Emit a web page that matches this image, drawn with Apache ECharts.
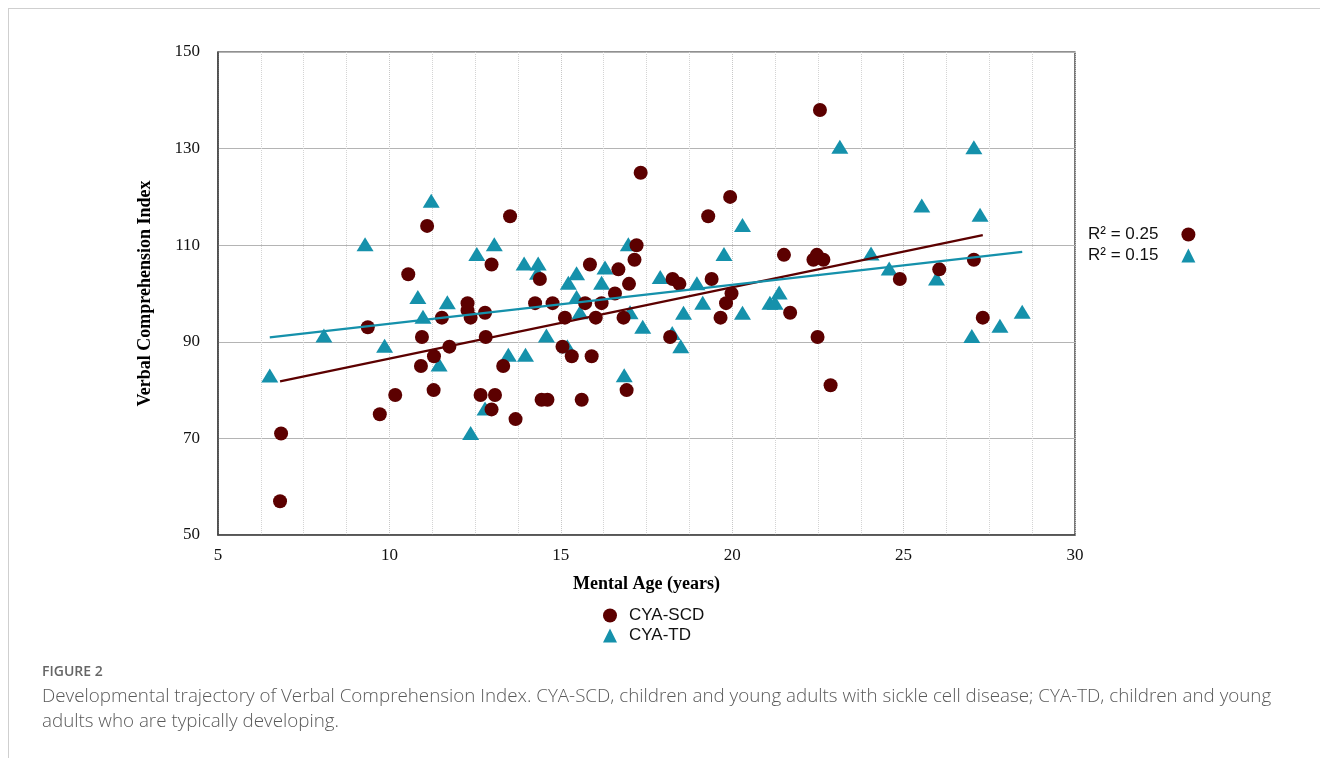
<!DOCTYPE html>
<html>
<head>
<meta charset="utf-8">
<script src="https://cdn.jsdelivr.net/npm/echarts@6/dist/echarts.min.js"></script>
<style>
  html, body { margin: 0; padding: 0; background: #fff; }
  #wrap { position: relative; width: 1320px; height: 758px; overflow: hidden; }
  #frame { position: absolute; left: 8px; top: 8px; right: -2px; bottom: -2px;
           border-top: 1px solid #cfcfcf; border-left: 1px solid #cfcfcf; }
  #chart { position: absolute; left: 0; top: 0; width: 1320px; height: 758px; }
  .cap { position: absolute; left: 42px; font-family: "Open Sans", sans-serif; color: #5a5a5a; }
  #figno { top: 661px; font-size: 14px; font-weight: 600; color: #666; }
  #captxt { top: 683px; font-size: 18.8px; line-height: 24.5px; width: 1260px; font-weight: 300; }
</style>
</head>
<body>
<div id="wrap">
  <div id="frame"></div>
  <div id="chart"></div>
  <div class="cap" id="figno">FIGURE 2</div>
  <div class="cap" id="captxt">Developmental trajectory of Verbal Comprehension Index. CYA-SCD, children and young adults with sickle cell disease; CYA-TD, children and young adults who are typically developing.</div>
</div>
<script>
// CYA-SCD: mental age (years) / VCI
const scdAge = [6.81, 6.84, 9.37, 9.72, 10.17, 10.55, 10.92, 10.95, 11.10, 11.29, 11.30, 11.53, 11.75,
  12.28, 12.28, 12.37, 12.79, 12.98, 12.81, 12.66, 13.08, 12.98, 13.52, 13.32, 13.68,
  14.25, 14.39, 14.76, 14.44, 14.61, 15.05, 15.12, 15.32, 15.61, 15.71, 15.85, 15.90,
  16.02, 16.19, 16.58, 16.68, 16.83, 16.99, 17.15, 17.21, 17.33, 16.92,
  18.26, 18.46, 18.19, 19.30, 19.40, 19.94, 19.66, 19.82, 19.98,
  21.51, 21.69, 22.37, 22.47, 22.66, 22.49, 22.87, 22.56, 24.89, 26.04, 27.05, 27.31];
const scdVci = [57, 71, 93, 75, 79, 104, 85, 91, 114, 80, 87, 95, 89,
  98, 96.5, 95, 96, 106, 91, 79, 79, 76, 116, 85, 74,
  98, 103, 98, 78, 78, 89, 95, 87, 78, 98, 106, 87,
  95, 98, 100, 105, 95, 102, 107, 110, 125, 80,
  103, 102, 91, 116, 103, 120, 95, 98, 100,
  108, 96, 107, 108, 107, 91, 81, 138, 103, 105, 107, 95];

// CYA-TD: mental age (years) / VCI
const tdAge = [6.51, 8.09, 9.29, 9.86, 10.83, 10.98, 11.22, 11.45, 11.69, 12.55, 13.06, 12.37, 12.79,
  13.47, 13.97, 13.93, 14.34, 14.32, 14.58, 15.22, 15.46, 15.46, 15.56, 15.19, 16.19, 16.29,
  17.02, 16.97, 17.39, 16.85, 17.90, 18.25, 18.50, 18.58, 18.97, 19.14, 19.76, 20.30, 20.30,
  21.10, 21.25, 21.37, 23.14, 24.05, 24.58, 25.96, 25.53, 27.05, 27.23, 26.99, 27.81, 28.46];
const tdVci = [83, 91.3, 110.2, 89.2, 99.3, 95.2, 119.2, 85.3, 98.2, 108.2, 110.2, 71.1, 76.2,
  87.3, 87.3, 106.2, 106.2, 104.3, 91.3, 102.2, 104.2, 99.3, 96.1, 89.1, 102.2, 105.4,
  96.1, 110.2, 93.1, 83.1, 103.4, 91.8, 89.1, 96.0, 102.1, 98.1, 108.2, 114.2, 96.0,
  98.1, 98.1, 100.2, 130.4, 108.3, 105.2, 103.1, 118.2, 130.3, 116.3, 91.2, 93.3, 96.2];

// linear trend lines (end points)
const scdTrendX = [6.81, 27.31];
const scdTrendY = [81.8, 112.1];
const tdTrendX = [6.51, 28.46];
const tdTrendY = [90.9, 108.6];

const seriesNames = ['CYA-SCD', 'CYA-TD'];
const r2Labels = ['R\u00b2 = 0.25', 'R\u00b2 = 0.15'];

const red = '#5c0000';
const teal = '#1591ab';

const pairs = (xs, ys) => xs.map((x, i) => [x, ys[i]]);

const chart = echarts.init(document.getElementById('chart'));
const serif = '"Liberation Serif", "Times New Roman", serif';
const sans = '"Liberation Sans", Arial, sans-serif';

chart.setOption({
  animation: false,
  grid: { left: 218, right: 245, top: 52, bottom: 223, show: true, borderColor: '#222', borderWidth: 1.2 },
  xAxis: {
    type: 'value', min: 5, max: 30, interval: 5,
    name: 'Mental Age (years)', nameLocation: 'middle', nameGap: 40,
    nameTextStyle: { fontFamily: serif, fontWeight: 'bold', fontSize: 18, color: '#000' },
    axisLine: { lineStyle: { color: '#444', width: 1.5 } },
    axisTick: { show: false },
    axisLabel: { fontFamily: serif, fontSize: 17, color: '#111', margin: 12 },
    splitLine: { show: true, lineStyle: { color: '#c8c8c8', type: 'dotted' } },
    minorTick: { show: false, splitNumber: 4 },
    minorSplitLine: { show: true, lineStyle: { color: '#d4d4d4', type: 'dotted' } }
  },
  yAxis: {
    type: 'value', min: 50, max: 150, interval: 20,
    name: 'Verbal Comprehension Index', nameLocation: 'middle', nameGap: 64,
    nameTextStyle: { fontFamily: serif, fontWeight: 'bold', fontSize: 18, color: '#000' },
    axisLine: { show: true, lineStyle: { color: '#444', width: 1.5 } },
    axisTick: { show: false },
    axisLabel: { fontFamily: serif, fontSize: 17, color: '#111', margin: 18 },
    splitLine: { show: true, lineStyle: { color: '#b4b4b4', width: 1 } }
  },
  legend: [
    {
      data: [
        { name: seriesNames[0], icon: 'circle' },
        { name: seriesNames[1], icon: 'triangle' }
      ],
      orient: 'vertical', left: 603, top: 607, itemGap: 3, padding: 0,
      itemWidth: 14, itemHeight: 14,
      textStyle: { fontFamily: sans, fontSize: 17, color: '#111', padding: [0, 0, 0, 7] }
    },
    {
      data: [
        { name: r2Labels[0], icon: 'circle', itemStyle: { color: red } },
        { name: r2Labels[1], icon: 'triangle', itemStyle: { color: teal } }
      ],
      orient: 'vertical', left: 1083, top: 221, align: 'right', itemGap: 4,
      itemWidth: 14, itemHeight: 14,
      textStyle: { fontFamily: sans, fontSize: 17, color: '#111', padding: [0, 18, 0, 0] }
    }
  ],
  series: [
    {
      name: seriesNames[0], type: 'scatter', symbol: 'circle', symbolSize: 14,
      itemStyle: { color: red, opacity: 1 }, z: 3,
      data: pairs(scdAge, scdVci)
    },
    {
      name: seriesNames[1], type: 'scatter', symbol: 'triangle', symbolSize: [17, 14],
      itemStyle: { color: teal, opacity: 1 }, z: 2,
      data: pairs(tdAge, tdVci)
    },
    {
      name: r2Labels[0], type: 'line', showSymbol: false, symbol: 'none', z: 4,
      lineStyle: { color: red, width: 2.2 }, itemStyle: { color: red },
      data: pairs(scdTrendX, scdTrendY)
    },
    {
      name: r2Labels[1], type: 'line', showSymbol: false, symbol: 'none', z: 4,
      lineStyle: { color: teal, width: 2.2 }, itemStyle: { color: teal },
      data: pairs(tdTrendX, tdTrendY)
    }
  ]
});
</script>
</body>
</html>
